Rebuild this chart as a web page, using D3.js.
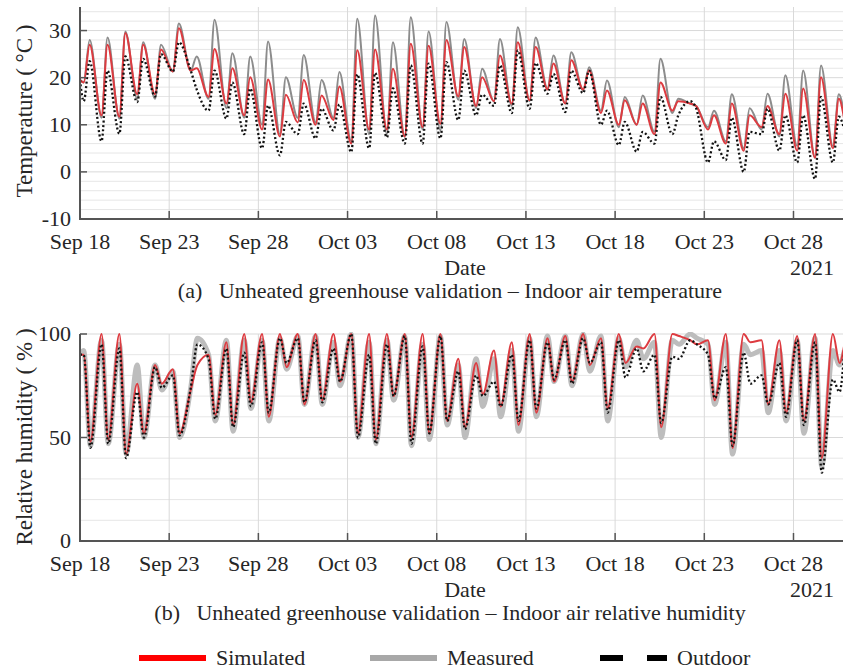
<!DOCTYPE html>
<html>
<head>
<meta charset="utf-8">
<title>Unheated greenhouse validation</title>
<script src="https://d3js.org/d3.v7.min.js"></script>
</head>
<body style="margin:0">
<script>

// x axis ticks (every 5 days)
var tickDates = ["2021-09-18", "2021-09-23", "2021-09-28", "2021-10-03", "2021-10-08",
                 "2021-10-13", "2021-10-18", "2021-10-23", "2021-10-28"];

// samples: first value at Sep 18 00:00, then two per day, last one on Oct 30 evening
// temperature: [morning low, afternoon high] per day
var tempHours = [5, 13];
var tempMeasured = [19.5,
  19,28, 11.5,28.5, 11.3,29.8, 15.5,27.5, 15.5,27, 21.3,31.5, 21.5,24.5, 15.5,32.3, 13.5,25.2, 11.5,24.5,
  10,27.7, 8,20.1, 11.5,24.8, 10.5,19.5, 11.5,21.2, 6.5,32.5, 8,33.2, 8,27.5, 7.5,32.8, 9,29.8,
  8.8,31.8, 15.3,28.2, 13.5,21.9, 15,28.2, 14,30.7, 15,28.5, 17.7,24.7, 14.5,25.4, 17.3,22.2, 13,19.4,
  9.5,15.9, 10,16.2, 8.5,24, 12.5,15.5, 14.5,14, 9.5,13, 6.5,16.5, 5,13.5, 9,16.6, 7.5,20.5,
  5.5,21.5, 3,22.6, 5.5,16.5,
  12];
var tempSimulated = [19.5,
  19,27, 12,27, 11.7,29.5, 16.5,27, 16.5,26, 21.3,30.5, 21.5,22, 15.9,26.1, 14.5,22, 12,20.1,
  9,19.6, 7.5,16.4, 10.5,19.5, 10,16.2, 11,18.1, 6,25.8, 9,26, 9,21.9, 7.5,27.2, 9.5,26.8,
  10.2,28, 16,26.5, 14,20.1, 15,24.7, 14.5,27.5, 15.2,26.5, 17.5,23, 14.5,23.7, 17.5,21.5, 12.5,17.3,
  10,15.2, 10,14.5, 8,19, 13,15, 14.5,14, 9,12, 6,14.5, 4.5,12, 9.5,14, 8,16.6,
  4.5,17.7, 3,20.1, 5,15.5,
  11];
var tempOutdoor = [19.5,
  15,23.5, 6.5,21.5, 8.1,24.5, 14.8,24, 16,25, 21.3,27.5, 21.5,17.5, 13,21.5, 11.3,19, 8,17.7,
  5,14.1, 3.5,10.6, 8,14.5, 7.1,13.4, 8.8,14.3, 4.2,20.7, 5,21, 7.3,17.7, 6,22.6, 6,23,
  7.1,23.3, 11,21.5, 12,16.4, 14,22.6, 12.5,25.8, 13.4,23.1, 16.6,20.8, 12.7,21.5, 16.7,21.5, 10,13,
  5.7,10.6, 4.3,8.5, 6,15.9, 8,12, 15,13.5, 2,6.5, 2.5,11.5, 0,8.5, 8,13.4, 4.5,12,
  2,12, -1.5,15.9, 2,11.7,
  9];

// relative humidity: [morning high, afternoon low] per day
var rhHours = [5, 14];
var rhMeasured = [90,
  92,46, 97,47, 95,42, 85,50, 85,73, 82,50, 74,98, 90,58, 97,53, 97,64,
  97,58, 98,83, 99,66, 99,66, 96,75, 100,50, 96,47, 97,68, 99,46, 95,49,
  99,56, 85,50, 88,65, 88,60, 92,53, 98,60, 99,77, 99,75, 100,82, 99,58,
  98,84, 97,88, 96,50, 97,95, 100,98, 95,66, 96,42, 95,90, 92,62, 92,58,
  97,52, 98,36, 92,85,
  92];
var rhSimulated = [90,
  90,48, 100,49, 100,42, 76,52, 85,76, 83,52, 73,85, 90,61, 96,56, 100,67,
  100,60, 100,84, 100,66, 100,68, 100,77, 100,52, 100,49, 100,70, 100,50, 100,52,
  100,58, 88,55, 86,71, 92,65, 96,56, 100,62, 98,77, 99,77, 100,85, 98,64,
  100,86, 94,93, 100,55, 100,99, 97,95, 97,68, 100,45, 100,96, 97,66, 97,62,
  99,58, 100,40, 100,86,
  95];
var rhOutdoor = [90,
  90,45, 95,47, 93,40, 72,50, 84,74, 80,51, 74,95, 88,59, 93,55, 91,65,
  96,62, 98,86, 98,67, 97,67, 93,77, 100,50, 90,47, 95,70, 99,47, 94,52,
  99,58, 82,54, 80,70, 77,65, 90,58, 97,64, 96,78, 97,76, 98,86, 96,62,
  97,79, 93,82, 90,57, 89,88, 97,95, 90,69, 84,46, 91,76, 80,66, 86,60,
  97,56, 96,33, 78,72,
  92];

var legendItems = ["Simulated", "Measured", "Outdoor"];

var W = 843, H = 672;
var parseDay = d3.utcParse("%Y-%m-%d");
var t0 = parseDay(tickDates[0]);
var DAY = 864e5;

// sample times matching the value arrays
function sampleTimes(hours, n) {
    var times = [t0];
    for (var i = 0; i < (n - 2) / 2; i++) {
        times.push(new Date(+t0 + i * DAY + hours[0] * 36e5));
        times.push(new Date(+t0 + i * DAY + hours[1] * 36e5));
    }
    times.push(new Date(+t0 + 42.85 * DAY));
    return times;
}

var x = d3.scaleUtc()
          .domain([t0, new Date(+t0 + 43 * DAY)])
          .range([80, 847]);

var svg = d3.select("body")
            .append("svg")
            .attr("width", W)
            .attr("height", H)
            .attr("font-family", "Liberation Serif")
            .style("display", "block");

// serif labels like the figure
function label(g, txt, size) {
    return g.append("text")
            .attr("font-family", "Liberation Serif")
            .style("font-family", "'Liberation Serif'")
            .style("font-size", (size || 22) + "px")
            .attr("fill", "#262626")
            .text(txt);
}

function drawPanel(p) {
    var y = d3.scaleLinear().domain(p.domain).range([p.bottom, p.top]);
    var g = svg.append("g");

    // grid: minor lines plus darker lines at labelled ticks
    g.selectAll(".hgrid")
     .data(d3.range(p.domain[0], p.domain[1] + 0.01, p.minor))
     .enter().append("line")
     .attr("stroke", function (d) { return p.ticks.indexOf(d) >= 0 ? "#d9d9d9" : "#e6e6e6"; })
     .attr("x1", x.range()[0]).attr("x2", x.range()[1])
     .attr("y1", function (d) { return y(d); }).attr("y2", function (d) { return y(d); });

    var tickVals = tickDates.map(parseDay);
    g.selectAll(".vgrid")
     .data(tickVals.slice(1))
     .enter().append("line")
     .attr("stroke", "#d9d9d9")
     .attr("x1", x).attr("x2", x)
     .attr("y1", p.top).attr("y2", p.bottom);

    // lines
    var clipId = "clip-" + p.name;
    svg.append("clipPath").attr("id", clipId)
       .append("rect")
       .attr("x", x.range()[0]).attr("y", p.top - 2)
       .attr("width", x.range()[1] - x.range()[0]).attr("height", p.bottom - p.top + 2);

    var lg = g.append("g").attr("clip-path", "url(#" + clipId + ")");
    p.series.forEach(function (s) {
        var times = sampleTimes(p.hours, s.values.length);
        var line = d3.line()
                     .x(function (d, i) { return x(times[i]); })
                     .y(function (d) { return y(d); })
                     .curve(d3.curveMonotoneX);
        lg.append("path")
          .attr("d", line(s.values))
          .attr("fill", "none")
          .attr("stroke-linejoin", "round")
          .attr("stroke", s.color)
          .attr("stroke-width", s.width)
          .attr("stroke-dasharray", s.dash || null);
    });

    // axes
    g.append("path")
     .attr("fill", "none").attr("stroke", "#555").attr("stroke-width", 2)
     .attr("d", "M" + x.range()[0] + "," + p.top + "V" + p.bottom + "H" + x.range()[1]);

    g.selectAll(".ytick")
     .data(p.ticks)
     .enter().append("line")
     .attr("stroke", "#555").attr("stroke-width", 1.5)
     .attr("x1", x.range()[0]).attr("x2", x.range()[0] + 7)
     .attr("y1", function (d) { return y(d); }).attr("y2", function (d) { return y(d); });

    p.ticks.forEach(function (d) {
        label(g, d).attr("x", 71).attr("y", y(d) + 7).attr("text-anchor", "end");
    });

    g.selectAll(".xtick")
     .data(tickVals)
     .enter().append("line")
     .attr("stroke", "#555").attr("stroke-width", 1.5)
     .attr("x1", x).attr("x2", x)
     .attr("y1", p.bottom).attr("y2", p.bottom - 8);

    var fmt = d3.utcFormat("%b %d");
    tickVals.forEach(function (d) {
        label(g, fmt(d)).attr("x", x(d)).attr("y", p.bottom + 30).attr("text-anchor", "middle");
    });

    label(g, "Date").attr("x", 465).attr("y", p.bottom + 56).attr("text-anchor", "middle");
    label(g, "2021").attr("x", 834).attr("y", p.bottom + 56).attr("text-anchor", "end");
    label(g, p.caption).attr("x", 450).attr("y", p.bottom + 79).attr("text-anchor", "middle");

    label(g, p.ylabel, 23)
     .attr("transform", "translate(32," + p.labelY + ")rotate(-90)")
     .attr("text-anchor", "middle");
}

drawPanel({
    name: "temp",
    domain: [-10, 35], top: 7, bottom: 219,
    minor: 2, ticks: [-10, 0, 10, 20, 30],
    hours: tempHours,
    ylabel: "Temperature ( \u00B0C )", labelY: 111,
    caption: "(a)\u2002 Unheated greenhouse validation \u2013 Indoor air temperature",
    series: [
        { values: tempMeasured, color: "#8c8c8c", width: 2 },
        { values: tempSimulated, color: "#dd3b40", width: 2 },
        { values: tempOutdoor, color: "#111", width: 2.3, dash: "2,2.4" }
    ]
});

drawPanel({
    name: "rh",
    domain: [0, 100], top: 334, bottom: 541,
    minor: 10, ticks: [0, 50, 100],
    hours: rhHours,
    ylabel: "Relative humidity ( % )", labelY: 437,
    caption: "(b)\u2002 Unheated greenhouse validation \u2013 Indoor air relative humidity",
    series: [
        { values: rhMeasured, color: "#bdbdbd", width: 5 },
        { values: rhSimulated, color: "#dd3b40", width: 2 },
        { values: rhOutdoor, color: "#111", width: 2.3, dash: "2,2.4" }
    ]
});

// legend
var legendX = [139, 370, 600];
var legendColors = ["#ff0000", "#a8a8a8", "#000"];
var legendDash = [null, null, "23,24"];
var lgd = svg.append("g");
legendItems.forEach(function (name, i) {
    lgd.append("line")
       .attr("x1", legendX[i]).attr("x2", legendX[i] + 67)
       .attr("y1", 658).attr("y2", 658)
       .attr("stroke", legendColors[i])
       .attr("stroke-width", 6)
       .attr("stroke-dasharray", legendDash[i]);
    label(lgd, name).attr("x", legendX[i] + 77).attr("y", 665);
});

</script>
</body>
</html>
